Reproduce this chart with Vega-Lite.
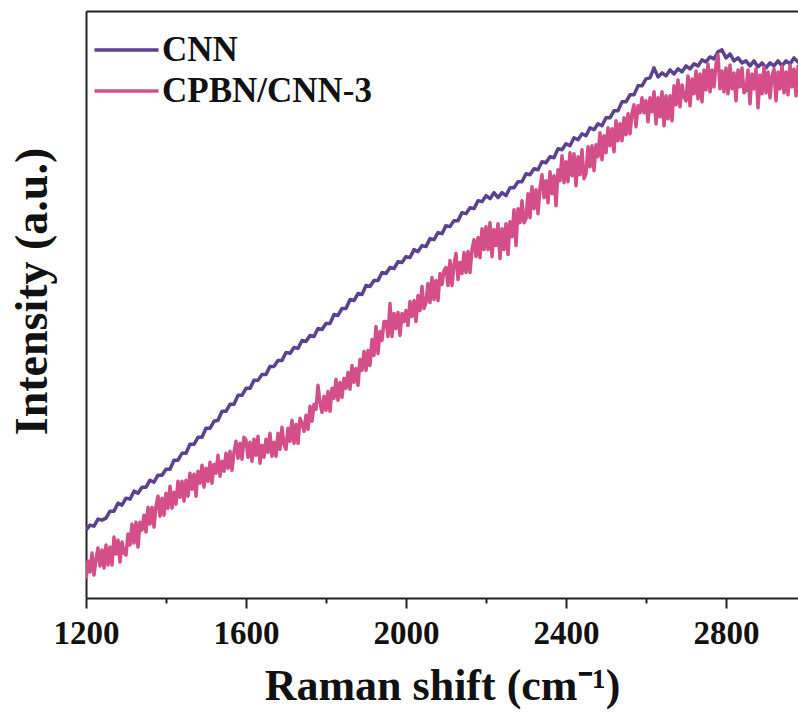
{
  "$schema": "https://vega.github.io/schema/vega-lite/v6.json",
  "autosize": {"type": "none"},
  "padding": {"left": 86, "top": 11, "right": 0, "bottom": 115},
  "width": 712,
  "height": 587,
  "config": {"view": {"stroke": null}, "font": "Liberation Serif"},
  "datasets": {
    "cnn": [
      {"x":1200,"y":68},{"x":1210,"y":73},{"x":1220,"y":72},{"x":1230,"y":79},{"x":1240,"y":78},
      {"x":1250,"y":80},{"x":1260,"y":87},{"x":1270,"y":87},{"x":1280,"y":95},{"x":1290,"y":93},
      {"x":1300,"y":100},{"x":1310,"y":99},{"x":1320,"y":107},{"x":1330,"y":105},{"x":1340,"y":111},
      {"x":1350,"y":111},{"x":1360,"y":118},{"x":1370,"y":116},{"x":1380,"y":123},{"x":1390,"y":123},
      {"x":1400,"y":129},{"x":1410,"y":129},{"x":1420,"y":138},{"x":1430,"y":138},{"x":1440,"y":145},
      {"x":1450,"y":145},{"x":1460,"y":154},{"x":1470,"y":154},{"x":1480,"y":161},{"x":1490,"y":161},
      {"x":1500,"y":170},{"x":1510,"y":170},{"x":1520,"y":177},{"x":1530,"y":178},{"x":1540,"y":187},
      {"x":1550,"y":187},{"x":1560,"y":194},{"x":1570,"y":194},{"x":1580,"y":203},{"x":1590,"y":203},
      {"x":1600,"y":210},{"x":1610,"y":210},{"x":1620,"y":218},{"x":1630,"y":218},{"x":1640,"y":224},
      {"x":1650,"y":224},{"x":1660,"y":232},{"x":1670,"y":232},{"x":1680,"y":238},{"x":1690,"y":238},
      {"x":1700,"y":246},{"x":1710,"y":245},{"x":1720,"y":251},{"x":1730,"y":250},{"x":1740,"y":258},
      {"x":1750,"y":257},{"x":1760,"y":263},{"x":1770,"y":262},{"x":1780,"y":270},{"x":1790,"y":269},
      {"x":1800,"y":275},{"x":1810,"y":275},{"x":1820,"y":284},{"x":1830,"y":283},{"x":1840,"y":290},
      {"x":1850,"y":290},{"x":1860,"y":299},{"x":1870,"y":298},{"x":1880,"y":305},{"x":1890,"y":304},
      {"x":1900,"y":313},{"x":1910,"y":312},{"x":1920,"y":318},{"x":1930,"y":318},{"x":1940,"y":326},
      {"x":1950,"y":325},{"x":1960,"y":331},{"x":1970,"y":330},{"x":1980,"y":337},{"x":1990,"y":336},
      {"x":2000,"y":342},{"x":2010,"y":341},{"x":2020,"y":349},{"x":2030,"y":347},{"x":2040,"y":353},
      {"x":2050,"y":352},{"x":2060,"y":360},{"x":2070,"y":359},{"x":2080,"y":366},{"x":2090,"y":365},
      {"x":2100,"y":373},{"x":2110,"y":372},{"x":2120,"y":378},{"x":2130,"y":378},{"x":2140,"y":386},
      {"x":2150,"y":385},{"x":2160,"y":391},{"x":2170,"y":390},{"x":2180,"y":398},{"x":2190,"y":397},
      {"x":2200,"y":403},{"x":2210,"y":400},{"x":2220,"y":406},{"x":2230,"y":401},{"x":2240,"y":406},
      {"x":2250,"y":403},{"x":2260,"y":411},{"x":2270,"y":411},{"x":2280,"y":417},{"x":2290,"y":417},
      {"x":2300,"y":425},{"x":2310,"y":424},{"x":2320,"y":430},{"x":2330,"y":429},{"x":2340,"y":437},
      {"x":2350,"y":436},{"x":2360,"y":442},{"x":2370,"y":441},{"x":2380,"y":450},{"x":2390,"y":449},
      {"x":2400,"y":455},{"x":2410,"y":453},{"x":2420,"y":461},{"x":2430,"y":459},{"x":2440,"y":465},
      {"x":2450,"y":463},{"x":2460,"y":471},{"x":2470,"y":469},{"x":2480,"y":475},{"x":2490,"y":473},
      {"x":2500,"y":481},{"x":2510,"y":481},{"x":2520,"y":488},{"x":2530,"y":488},{"x":2540,"y":497},
      {"x":2550,"y":497},{"x":2560,"y":504},{"x":2570,"y":504},{"x":2580,"y":513},{"x":2590,"y":513},
      {"x":2600,"y":520},{"x":2610,"y":521},{"x":2620,"y":531},{"x":2630,"y":522},{"x":2640,"y":526},
      {"x":2650,"y":523},{"x":2660,"y":529},{"x":2670,"y":525},{"x":2680,"y":530},{"x":2690,"y":527},
      {"x":2700,"y":533},{"x":2710,"y":530},{"x":2720,"y":535},{"x":2730,"y":533},{"x":2740,"y":539},
      {"x":2750,"y":537},{"x":2760,"y":542},{"x":2770,"y":540},{"x":2780,"y":547},{"x":2790,"y":549},
      {"x":2800,"y":541},{"x":2810,"y":545},{"x":2820,"y":538},{"x":2830,"y":541},{"x":2840,"y":536},
      {"x":2850,"y":538},{"x":2860,"y":533},{"x":2870,"y":538},{"x":2880,"y":532},{"x":2890,"y":536},
      {"x":2900,"y":531},{"x":2910,"y":536},{"x":2920,"y":533},{"x":2930,"y":538},{"x":2940,"y":533},
      {"x":2950,"y":538},{"x":2960,"y":535},{"x":2970,"y":541},{"x":2980,"y":537},{"x":2990,"y":541},
      {"x":3000,"y":540}
    ],
    "cpbn": [
      {"x":1200,"y":19},{"x":1205,"y":37},{"x":1210,"y":26},{"x":1215,"y":45},{"x":1220,"y":23},{"x":1225,"y":39},{"x":1230,"y":50},{"x":1235,"y":32},{"x":1240,"y":48},{"x":1245,"y":30},
      {"x":1250,"y":53},{"x":1255,"y":33},{"x":1260,"y":51},{"x":1265,"y":33},{"x":1270,"y":61},{"x":1275,"y":44},{"x":1280,"y":58},{"x":1285,"y":36},{"x":1290,"y":56},{"x":1295,"y":45},
      {"x":1300,"y":43},{"x":1305,"y":64},{"x":1310,"y":53},{"x":1315,"y":74},{"x":1320,"y":55},{"x":1325,"y":76},{"x":1330,"y":51},{"x":1335,"y":76},{"x":1340,"y":68},{"x":1345,"y":83},
      {"x":1350,"y":66},{"x":1355,"y":91},{"x":1360,"y":74},{"x":1365,"y":91},{"x":1370,"y":71},{"x":1375,"y":92},{"x":1380,"y":102},{"x":1385,"y":82},{"x":1390,"y":100},{"x":1395,"y":83},
      {"x":1400,"y":105},{"x":1405,"y":90},{"x":1410,"y":112},{"x":1415,"y":90},{"x":1420,"y":106},{"x":1425,"y":94},{"x":1430,"y":117},{"x":1435,"y":101},{"x":1440,"y":117},{"x":1445,"y":97},
      {"x":1450,"y":118},{"x":1455,"y":102},{"x":1460,"y":125},{"x":1465,"y":109},{"x":1470,"y":124},{"x":1475,"y":102},{"x":1480,"y":127},{"x":1485,"y":115},{"x":1490,"y":133},{"x":1495,"y":111},
      {"x":1500,"y":130},{"x":1505,"y":117},{"x":1510,"y":136},{"x":1515,"y":115},{"x":1520,"y":134},{"x":1525,"y":125},{"x":1530,"y":143},{"x":1535,"y":122},{"x":1540,"y":137},{"x":1545,"y":127},
      {"x":1550,"y":145},{"x":1555,"y":130},{"x":1560,"y":147},{"x":1565,"y":128},{"x":1570,"y":146},{"x":1575,"y":157},{"x":1580,"y":140},{"x":1585,"y":155},{"x":1590,"y":139},{"x":1595,"y":161},
      {"x":1600,"y":158},{"x":1605,"y":141},{"x":1610,"y":156},{"x":1615,"y":137},{"x":1620,"y":159},{"x":1625,"y":143},{"x":1630,"y":162},{"x":1635,"y":135},{"x":1640,"y":153},{"x":1645,"y":141},
      {"x":1650,"y":159},{"x":1655,"y":146},{"x":1660,"y":165},{"x":1665,"y":142},{"x":1670,"y":156},{"x":1675,"y":142},{"x":1680,"y":165},{"x":1685,"y":149},{"x":1690,"y":171},{"x":1695,"y":154},
      {"x":1700,"y":149},{"x":1705,"y":170},{"x":1710,"y":157},{"x":1715,"y":178},{"x":1720,"y":155},{"x":1725,"y":174},{"x":1730,"y":155},{"x":1735,"y":180},{"x":1740,"y":175},{"x":1745,"y":167},
      {"x":1750,"y":183},{"x":1755,"y":169},{"x":1760,"y":192},{"x":1765,"y":177},{"x":1770,"y":194},{"x":1775,"y":189},{"x":1780,"y":213},{"x":1785,"y":196},{"x":1790,"y":186},{"x":1795,"y":202},
      {"x":1800,"y":188},{"x":1805,"y":207},{"x":1810,"y":187},{"x":1815,"y":210},{"x":1820,"y":200},{"x":1825,"y":219},{"x":1830,"y":198},{"x":1835,"y":216},{"x":1840,"y":201},{"x":1845,"y":220},
      {"x":1850,"y":210},{"x":1855,"y":226},{"x":1860,"y":209},{"x":1865,"y":233},{"x":1870,"y":216},{"x":1875,"y":230},{"x":1880,"y":213},{"x":1885,"y":239},{"x":1890,"y":228},{"x":1895,"y":247},
      {"x":1900,"y":228},{"x":1905,"y":248},{"x":1910,"y":233},{"x":1915,"y":259},{"x":1920,"y":243},{"x":1925,"y":272},{"x":1930,"y":245},{"x":1935,"y":267},{"x":1940,"y":258},{"x":1945,"y":277},
      {"x":1950,"y":277},{"x":1955,"y":262},{"x":1960,"y":295},{"x":1965,"y":262},{"x":1970,"y":285},{"x":1975,"y":270},{"x":1980,"y":286},{"x":1985,"y":263},{"x":1990,"y":285},{"x":1995,"y":277},
      {"x":2000,"y":288},{"x":2005,"y":273},{"x":2010,"y":297},{"x":2015,"y":282},{"x":2020,"y":298},{"x":2025,"y":277},{"x":2030,"y":303},{"x":2035,"y":288},{"x":2040,"y":312},{"x":2045,"y":290},
      {"x":2050,"y":296},{"x":2055,"y":315},{"x":2060,"y":296},{"x":2065,"y":321},{"x":2070,"y":299},{"x":2075,"y":318},{"x":2080,"y":298},{"x":2085,"y":325},{"x":2090,"y":314},{"x":2095,"y":328},
      {"x":2100,"y":331},{"x":2105,"y":313},{"x":2110,"y":338},{"x":2115,"y":313},{"x":2120,"y":334},{"x":2125,"y":345},{"x":2130,"y":319},{"x":2135,"y":336},{"x":2140,"y":325},{"x":2145,"y":346},
      {"x":2150,"y":326},{"x":2155,"y":347},{"x":2160,"y":326},{"x":2165,"y":349},{"x":2170,"y":359},{"x":2175,"y":342},{"x":2180,"y":361},{"x":2185,"y":341},{"x":2190,"y":370},{"x":2195,"y":349},
      {"x":2200,"y":372},{"x":2205,"y":349},{"x":2210,"y":376},{"x":2215,"y":342},{"x":2220,"y":369},{"x":2225,"y":353},{"x":2230,"y":375},{"x":2235,"y":340},{"x":2240,"y":370},{"x":2245,"y":349},
      {"x":2250,"y":375},{"x":2255,"y":344},{"x":2260,"y":377},{"x":2265,"y":362},{"x":2270,"y":389},{"x":2275,"y":353},{"x":2280,"y":390},{"x":2285,"y":376},{"x":2290,"y":398},{"x":2295,"y":376},
      {"x":2300,"y":380},{"x":2305,"y":405},{"x":2310,"y":381},{"x":2315,"y":412},{"x":2320,"y":390},{"x":2325,"y":409},{"x":2330,"y":385},{"x":2335,"y":411},{"x":2340,"y":424},{"x":2345,"y":401},
      {"x":2350,"y":418},{"x":2355,"y":396},{"x":2360,"y":427},{"x":2365,"y":405},{"x":2370,"y":423},{"x":2375,"y":393},{"x":2380,"y":429},{"x":2385,"y":418},{"x":2390,"y":443},{"x":2395,"y":416},
      {"x":2400,"y":437},{"x":2405,"y":417},{"x":2410,"y":446},{"x":2415,"y":423},{"x":2420,"y":445},{"x":2425,"y":413},{"x":2430,"y":442},{"x":2435,"y":424},{"x":2440,"y":449},{"x":2445,"y":420},
      {"x":2450,"y":425},{"x":2455,"y":452},{"x":2460,"y":432},{"x":2465,"y":453},{"x":2470,"y":428},{"x":2475,"y":454},{"x":2480,"y":442},{"x":2485,"y":466},{"x":2490,"y":439},{"x":2495,"y":463},
      {"x":2500,"y":446},{"x":2505,"y":471},{"x":2510,"y":453},{"x":2515,"y":470},{"x":2520,"y":447},{"x":2525,"y":478},{"x":2530,"y":458},{"x":2535,"y":475},{"x":2540,"y":458},{"x":2545,"y":481},
      {"x":2550,"y":464},{"x":2555,"y":485},{"x":2560,"y":465},{"x":2565,"y":486},{"x":2570,"y":494},{"x":2575,"y":472},{"x":2580,"y":493},{"x":2585,"y":486},{"x":2590,"y":501},{"x":2595,"y":486},
      {"x":2600,"y":498},{"x":2605,"y":477},{"x":2610,"y":501},{"x":2615,"y":487},{"x":2620,"y":507},{"x":2625,"y":475},{"x":2630,"y":501},{"x":2635,"y":482},{"x":2640,"y":507},{"x":2645,"y":473},
      {"x":2650,"y":503},{"x":2655,"y":480},{"x":2660,"y":503},{"x":2665,"y":478},{"x":2670,"y":513},{"x":2675,"y":494},{"x":2680,"y":519},{"x":2685,"y":492},{"x":2690,"y":514},{"x":2695,"y":502},
      {"x":2700,"y":498},{"x":2705,"y":523},{"x":2710,"y":493},{"x":2715,"y":520},{"x":2720,"y":505},{"x":2725,"y":528},{"x":2730,"y":500},{"x":2735,"y":525},{"x":2740,"y":497},{"x":2745,"y":529},
      {"x":2750,"y":509},{"x":2755,"y":535},{"x":2760,"y":507},{"x":2765,"y":529},{"x":2770,"y":512},{"x":2775,"y":534},{"x":2780,"y":544},{"x":2785,"y":510},{"x":2790,"y":528},{"x":2795,"y":507},
      {"x":2800,"y":531},{"x":2805,"y":505},{"x":2810,"y":534},{"x":2815,"y":510},{"x":2820,"y":526},{"x":2825,"y":498},{"x":2830,"y":529},{"x":2835,"y":512},{"x":2840,"y":531},{"x":2845,"y":506},
      {"x":2850,"y":508},{"x":2855,"y":529},{"x":2860,"y":495},{"x":2865,"y":525},{"x":2870,"y":510},{"x":2875,"y":530},{"x":2880,"y":491},{"x":2885,"y":524},{"x":2890,"y":505},{"x":2895,"y":532},
      {"x":2900,"y":506},{"x":2905,"y":527},{"x":2910,"y":501},{"x":2915,"y":523},{"x":2920,"y":530},{"x":2925,"y":498},{"x":2930,"y":527},{"x":2935,"y":510},{"x":2940,"y":533},{"x":2945,"y":506},
      {"x":2950,"y":527},{"x":2955,"y":504},{"x":2960,"y":534},{"x":2965,"y":512},{"x":2970,"y":530},{"x":2975,"y":503},{"x":2980,"y":533},{"x":2985,"y":516},{"x":2990,"y":535},{"x":2995,"y":513},
      {"x":3000,"y":524}
    ]
  },
  "layer": [
    {
      "data": {"name": "cnn"},
      "mark": {"type": "line", "clip": true, "strokeWidth": 3.5, "strokeJoin": "round"},
      "encoding": {
        "x": {
          "field": "x", "type": "quantitative",
          "scale": {"domain": [1200, 2980], "nice": false, "zero": false},
          "axis": {
            "orient": "bottom",
            "title": "Raman shift (cm⁻¹)",
            "values": [1200, 1400, 1600, 1800, 2000, 2200, 2400, 2600, 2800],
            "format": "d",
            "labelExpr": "datum.value % 400 === 0 ? datum.label : ''",
            "grid": false,
            "domainColor": "#222", "domainWidth": 2,
            "tickColor": "#222", "tickWidth": 2,
            "tickSize": {"condition": {"test": "datum.value % 400 === 0", "value": 10}, "value": 5},
            "labelFont": "Liberation Serif", "labelFontSize": 33, "labelFontWeight": "bold", "labelColor": "#111",
            "labelPadding": 9, "labelFlush": false, "labelOverlap": false,
            "titleFont": "Liberation Serif", "titleFontSize": 44, "titleFontWeight": "bold", "titleColor": "#111",
            "titlePadding": 14
          }
        },
        "y": {
          "field": "y", "type": "quantitative",
          "scale": {"domain": [0, 588], "nice": false, "zero": false},
          "axis": {
            "title": "Intensity (a.u.)",
            "labels": false, "ticks": false, "grid": false,
            "domainColor": "#222", "domainWidth": 2,
            "titleFont": "Liberation Serif", "titleFontSize": 46, "titleFontWeight": "bold", "titleColor": "#111",
            "titlePadding": 30, "titleY": 280
          }
        },
        "color": {
          "datum": "CNN", "type": "nominal",
          "scale": {"domain": ["CNN", "CPBN/CNN-3"], "range": ["#5b4190", "#d44f8a"]},
          "legend": {
            "title": null, "orient": "none", "legendX": 23, "legendY": 21.5,
            "symbolType": "M-3.05,0H3.05", "symbolSize": 441, "symbolStrokeWidth": 3.5,
            "symbolFillColor": "transparent",
            "labelFont": "Liberation Serif", "labelFontSize": 35, "labelFontWeight": "bold", "labelColor": "#111",
            "labelOffset": 18, "rowPadding": 5, "padding": 0, "labelLimit": 400
          }
        }
      }
    },
    {
      "data": {"name": "cpbn"},
      "mark": {"type": "line", "clip": true, "strokeWidth": 3.5, "strokeJoin": "round"},
      "encoding": {
        "x": {
          "field": "x", "type": "quantitative",
          "axis": {"orient": "top", "labels": false, "ticks": false, "title": null, "grid": false, "domainColor": "#222", "domainWidth": 2}
        },
        "y": {"field": "y", "type": "quantitative"},
        "color": {"datum": "CPBN/CNN-3", "type": "nominal"}
      }
    }
  ],
  "resolve": {"axis": {"x": "independent"}}
}
